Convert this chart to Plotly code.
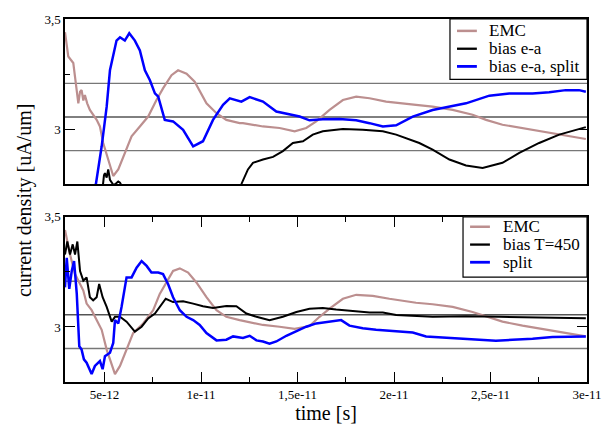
import plotly.graph_objects as go

# ---------------------------------------------------------------- data
# time in picoseconds (converted to seconds when plotted), current density in uA/um
SCALE_T = 1e-12

# upper panel: EMC reference vs. biased e-a runs
top_emc_t = [2.95, 3.12, 3.38, 3.64, 3.73, 3.81, 3.90, 3.98, 4.10, 4.24, 4.59, 4.76, 4.93,
             5.19, 5.45, 5.71, 6.05, 6.40, 6.83, 7.26, 7.69, 8.03, 8.47, 8.81, 9.25, 9.67,
             10.28, 10.80, 11.31, 12.0, 12.17, 13.21, 14.07, 14.85, 15.45, 15.97, 16.66,
             17.35, 18.04, 18.73, 19.59, 20.28, 21.14, 22.0, 23.04, 24.07, 24.77, 25.62,
             26.66, 27.69, 28.73, 29.94]
top_emc_v = [3.44, 3.33, 3.30, 3.117, 3.17, 3.177, 3.13, 3.155, 3.117, 3.087, 3.042, 3.012, 2.937,
             2.862, 2.787, 2.817, 2.89, 2.967, 3.012, 3.057, 3.132, 3.185, 3.245, 3.267, 3.252, 3.215,
             3.117, 3.072, 3.042, 3.027, 3.027, 3.012, 3.005, 2.99, 3.005, 3.035, 3.087,
             3.132, 3.147, 3.14, 3.125, 3.117, 3.11, 3.102, 3.087, 3.065, 3.042, 3.02,
             3.005, 2.99, 2.975, 2.955]

top_bias_t = [2.95, 3.8, 4.6, 4.92, 4.97, 5.02, 5.11, 5.19, 5.28, 5.37, 5.47, 5.62, 5.71, 5.80,
              5.90, 6.3, 8.0, 10.0, 11.3, 11.9, 12.09, 12.43, 12.69, 13.21, 13.73, 14.24, 14.76,
              15.28, 15.79, 16.31, 17.35, 18.38, 19.42, 20.11, 21.31, 22.0, 22.87, 23.73, 24.59,
              25.62, 26.49, 27.52, 28.56, 29.94]
top_bias_v = [2.66, 2.63, 2.70, 2.75, 2.79, 2.80, 2.78, 2.817, 2.77, 2.76, 2.745, 2.755, 2.762, 2.757,
              2.74, 2.70, 2.62, 2.60, 2.66, 2.72, 2.75, 2.817, 2.847, 2.862, 2.874, 2.90, 2.937,
              2.945, 2.975, 2.99, 3.001, 2.997, 2.99, 2.975, 2.937, 2.907, 2.862, 2.835, 2.824,
              2.847, 2.892, 2.937, 2.975, 3.009]

top_split_t = [2.95, 3.7, 4.3, 4.55, 4.85, 5.11, 5.28, 5.45, 5.62, 5.80, 6.05, 6.28, 6.57, 6.83,
               7.09, 7.35, 7.61, 7.78, 8.12, 8.55, 9.07, 9.59, 10.10, 10.62, 11.14, 11.49, 12.09,
               12.52, 13.21, 13.90, 14.59, 15.11, 15.62, 16.31, 17.18, 18.04, 18.73, 19.42, 20.11,
               20.97, 22.0, 23.04, 23.73, 24.94, 25.97, 27.18, 28.04, 28.90, 29.59, 29.94]
top_split_v = [2.64, 2.60, 2.66, 2.75, 2.922, 3.102, 3.267, 3.342, 3.402, 3.417, 3.402, 3.435, 3.402, 3.357,
               3.267, 3.222, 3.162, 3.147, 3.042, 3.035, 2.997, 2.922, 2.945, 3.042, 3.11, 3.14, 3.125,
               3.145, 3.125, 3.08, 3.068, 3.057, 3.04, 3.045, 3.046, 3.04, 3.027, 3.012, 3.017,
               3.057, 3.087, 3.105, 3.117, 3.152, 3.162, 3.162, 3.167, 3.177, 3.177, 3.17]

# lower panel: EMC reference vs. bias at T=450 and split
bot_emc_t = [2.95, 3.21, 3.47, 3.73, 3.90, 4.07, 4.33, 4.59, 4.85, 5.11, 5.37, 5.54, 5.80, 6.14,
             6.48, 7.0, 7.52, 7.86, 8.21, 8.55, 8.90, 9.33, 9.76, 10.28, 10.80, 11.31, 12.0,
             12.35, 13.21, 14.07, 14.85, 15.62, 16.14, 16.66, 17.35, 18.04, 18.90, 19.76, 20.28,
             21.14, 22.0, 23.04, 24.07, 24.77, 25.62, 26.66, 27.69, 28.73, 29.94]
bot_emc_v = [3.44, 3.329, 3.24, 3.195, 3.165, 3.106, 3.076, 3.031, 2.987, 2.897, 2.823, 2.786, 2.823, 2.897,
             2.972, 3.016, 3.076, 3.15, 3.202, 3.254, 3.266, 3.247, 3.202, 3.135, 3.076, 3.046, 3.031,
             3.024, 3.009, 3.001, 2.991, 3.004, 3.046, 3.083, 3.128, 3.146, 3.141, 3.128, 3.121,
             3.11, 3.103, 3.091, 3.068, 3.049, 3.024, 3.006, 2.991, 2.975, 2.957]

bot_bias_t = [2.95, 3.07, 3.21, 3.35, 3.47, 3.59, 3.73, 3.90, 4.07, 4.24, 4.41, 4.59, 4.72, 4.90,
              5.11, 5.37, 5.54, 5.80, 6.14, 6.57, 6.92, 7.26, 7.61, 7.86, 8.17, 8.55, 9.07, 9.59,
              10.10, 10.62, 11.31, 11.83, 12.35, 12.87, 13.55, 14.24, 14.94, 15.62, 16.31, 17.0,
              17.86, 18.73, 19.42, 20.11, 22.0, 23.73, 25.45, 27.18, 28.90, 29.94]
bot_bias_v = [3.329, 3.388, 3.329, 3.375, 3.329, 3.388, 3.254, 3.21, 3.225, 3.135, 3.121, 3.135, 3.195, 3.135,
              3.091, 3.024, 3.046, 3.046, 3.024, 2.979, 3.001, 3.039, 3.061, 3.091, 3.128, 3.113, 3.117, 3.106,
              3.094, 3.086, 3.095, 3.094, 3.061, 3.046, 3.031, 3.046, 3.068, 3.083, 3.086, 3.079,
              3.073, 3.066, 3.066, 3.054, 3.046, 3.049, 3.046, 3.042, 3.039, 3.039]

bot_split_t = [2.95, 3.04, 3.17, 3.30, 3.42, 3.56, 3.69, 3.81, 3.93, 4.07, 4.33, 4.50, 4.76, 4.90,
               5.02, 5.28, 5.45, 5.54, 5.71, 5.88, 6.14, 6.40, 6.66, 6.92, 7.18, 7.43, 7.78, 8.03,
               8.29, 8.55, 8.90, 9.25, 9.59, 9.93, 10.28, 10.80, 11.31, 11.66, 12.17, 12.52, 12.87,
               13.21, 13.55, 13.90, 14.42, 14.94, 15.45, 15.97, 16.66, 17.26, 17.69, 18.38, 19.07,
               20.11, 20.97, 21.66, 22.52, 23.38, 24.24, 25.28, 26.14, 27.18, 28.21, 29.25, 29.94]
bot_split_v = [3.18, 3.314, 3.173, 3.254, 3.299, 3.15, 2.912, 2.897, 2.853, 2.838, 2.786, 2.823, 2.845, 2.808,
               2.867, 2.883, 2.927, 3.031, 3.016, 3.091, 3.225, 3.225, 3.269, 3.299, 3.277, 3.247, 3.247, 3.24,
               3.195, 3.135, 3.076, 3.046, 3.031, 3.009, 2.972, 2.939, 2.942, 2.957, 2.95, 2.96, 2.939,
               2.934, 2.924, 2.934, 2.96, 2.979, 3.001, 3.016, 3.024, 3.031, 3.006, 2.994, 2.987,
               2.982, 2.975, 2.957, 2.952, 2.946, 2.942, 2.937, 2.942, 2.946, 2.954, 2.957, 2.957]

# mean level of the EMC current and the +/-5 % tolerance band
ref_level = 3.055
ref_band = 0.05

x_tick_vals = [5e-12, 1e-11, 1.5e-11, 2e-11, 2.5e-11, 3e-11]
x_tick_text = ["5e-12", "1e-11", "1,5e-11", "2e-11", "2,5e-11", "3e-11"]
x_minor_vals = [7.5e-12, 1.25e-11, 1.75e-11, 2.25e-11, 2.75e-11]
y_tick_vals = [3.0, 3.5]
y_tick_text = ["3", "3,5"]
y_minor_vals = [3.25]

top_names = ["EMC", "bias e-a", "bias e-a, split"]
bot_names = ["EMC", "bias T=450", "split"]
colors = ["#bc8f8f", "#000000", "#0000ff"]
widths = [2.2, 2.0, 2.5]

SERIF = "Liberation Serif"

# ---------------------------------------------------------------- figure
fig = go.Figure()

top_series = [(top_emc_t, top_emc_v), (top_bias_t, top_bias_v), (top_split_t, top_split_v)]
bot_series = [(bot_emc_t, bot_emc_v), (bot_bias_t, bot_bias_v), (bot_split_t, bot_split_v)]

for (t, v), name, c, w in zip(top_series, top_names, colors, widths):
    fig.add_trace(go.Scatter(x=[ti * SCALE_T for ti in t], y=v, mode="lines", name=name,
                             line=dict(color=c, width=w), xaxis="x", yaxis="y",
                             showlegend=False))
for (t, v), name, c, w in zip(bot_series, bot_names, colors, widths):
    fig.add_trace(go.Scatter(x=[ti * SCALE_T for ti in t], y=v, mode="lines", name=name,
                             line=dict(color=c, width=w), xaxis="x2", yaxis="y2",
                             showlegend=False))

x_range = [2.95e-12, 3.0e-11]
y_range = [2.75, 3.5]

common_y = dict(range=y_range, tickmode="array", tickvals=y_tick_vals, ticktext=y_tick_text,
                ticks="inside", ticklen=10, tickwidth=1.2, tickcolor="black",
                minor=dict(tickmode="array", tickvals=y_minor_vals, ticks="inside",
                           ticklen=5, tickwidth=1.2, tickcolor="black"),
                showline=True, linecolor="black", linewidth=1.5, mirror="ticks",
                showgrid=False, zeroline=False,
                tickfont=dict(family=SERIF, size=13, color="black"))

fig.update_layout(
    width=614, height=430,
    margin=dict(l=65, r=27, t=15, b=48),
    paper_bgcolor="white", plot_bgcolor="white",
    font=dict(family=SERIF, color="black"),
    xaxis=dict(domain=[0, 1], anchor="y", range=x_range, showticklabels=False, ticks="",
               showline=True, linecolor="black", linewidth=1.5, mirror=True,
               showgrid=False, zeroline=False),
    yaxis=dict(domain=[0.545, 1.0], anchor="x", **common_y),
    xaxis2=dict(domain=[0, 1], anchor="y2", range=x_range, tickmode="array",
                tickvals=x_tick_vals, ticktext=x_tick_text,
                ticks="inside", ticklen=10, tickwidth=1.2, tickcolor="black",
                minor=dict(tickmode="array", tickvals=x_minor_vals, ticks="inside",
                           ticklen=5, tickwidth=1.2, tickcolor="black"),
                showline=True, linecolor="black", linewidth=1.5, mirror="ticks",
                showgrid=False, zeroline=False,
                tickfont=dict(family=SERIF, size=13, color="black"),
                title=dict(text="time [s]", font=dict(family=SERIF, size=20, color="black"),
                           standoff=2)),
    yaxis2=dict(domain=[0.0, 0.455], anchor="x2", **common_y),
    showlegend=False,
)

# tolerance lines: mean (black) and +/-5 % (grey) in both panels
levels = [(ref_level * (1 + ref_band), "#777777", 1.4),
          (ref_level, "#000000", 1.0),
          (ref_level * (1 - ref_band), "#777777", 1.4)]
for yref, xref in [("y", "x"), ("y2", "x2")]:
    for lvl, col, lw in levels:
        fig.add_shape(type="line", xref=f"{xref} domain", yref=yref, x0=0, x1=1, y0=lvl, y1=lvl,
                      line=dict(color=col, width=lw), layer="below")

# boxed legends in the upper-right corner of each panel
def add_legend(xref, yref, names, box_x0, sample_x, text_x, rows, box_y0):
    fig.add_shape(type="rect", xref=f"{xref} domain", yref=f"{yref} domain",
                  x0=box_x0, x1=1.0, y0=box_y0, y1=1.0,
                  fillcolor="white", line=dict(color="black", width=1.2), layer="above")
    for name, c, w, ry in zip(names, colors, widths, rows):
        fig.add_shape(type="line", xref=f"{xref} domain", yref=f"{yref} domain",
                      x0=sample_x[0], x1=sample_x[1], y0=ry, y1=ry,
                      line=dict(color=c, width=w + 0.3), layer="above")
        fig.add_annotation(xref=f"{xref} domain", yref=f"{yref} domain", x=text_x, y=ry,
                           text=name, showarrow=False, xanchor="left", yanchor="middle",
                           font=dict(family=SERIF, size=17, color="black"))

add_legend("x", "y", top_names, 0.7375, (0.751, 0.789), 0.808,
           [0.928, 0.820, 0.713], 0.635)
add_legend("x2", "y2", bot_names, 0.7625, (0.776, 0.814), 0.835,
           [0.940, 0.832, 0.725], 0.635)

# shared y-axis title spanning both panels
fig.add_annotation(xref="paper", yref="paper", x=-0.079, y=0.501, textangle=-90,
                   text="current density [uA/um]", showarrow=False,
                   xanchor="center", yanchor="middle",
                   font=dict(family=SERIF, size=20, color="black"))

fig.write_html("out.html")
